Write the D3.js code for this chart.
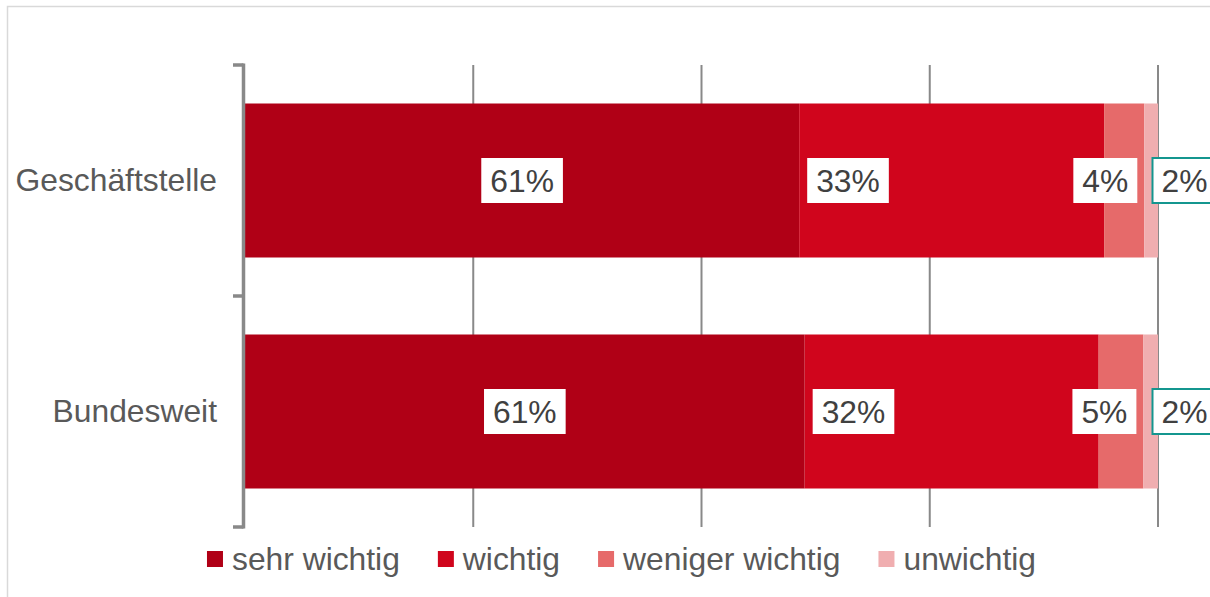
<!DOCTYPE html>
<html>
<head>
<meta charset="utf-8">
<script src="https://cdn.jsdelivr.net/npm/d3@7"></script>
<style>
  body { margin:0; background:#fff; }
  svg { display:block; font-family:'Liberation Sans', Arial, sans-serif; }
</style>
</head>
<body>
<svg class="chart"></svg>
<script>
"use strict";

var categories = ['Geschäftstelle', 'Bundesweit'];
var seriesNames = ['sehr wichtig', 'wichtig', 'weniger wichtig', 'unwichtig'];
var sehrWichtig = [60.7, 61.3];
var wichtig = [33.4, 32.2];
var wenigerWichtig = [4.4, 4.9];
var unwichtig = [1.5, 1.6];
var xTicks = [0, 25, 50, 75, 100];

var colors = ['#b00016', '#d0051c', '#e66a6a', '#f0aeb0'];
var fs = 31.8;

var W = 1210, H = 597;
var svg = d3.select('.chart')
  .attr('width', W)
  .attr('height', H);

// outer frame
svg.append('rect')
  .attr('x', 7.5).attr('y', 6.5)
  .attr('width', W + 10).attr('height', H + 10)
  .attr('fill', 'none')
  .attr('stroke', '#d9d9d9')
  .attr('stroke-width', 1.5);

var x = d3.scaleLinear()
  .domain([0, 100])
  .range([245, 1158]);

var y = d3.scaleBand()
  .domain(categories)
  .range([65, 527])
  .paddingInner(1/3)
  .paddingOuter(1/6);

var rows = categories.map(function(c, i){
  return {
    cat: c,
    'sehr wichtig': sehrWichtig[i],
    'wichtig': wichtig[i],
    'weniger wichtig': wenigerWichtig[i],
    'unwichtig': unwichtig[i]
  };
});

var stacked = d3.stack().keys(seriesNames)(rows);

// gridlines
svg.append('g').selectAll('line')
  .data(xTicks.slice(1))
  .enter().append('line')
    .attr('x1', function(d){return x(d)})
    .attr('x2', function(d){return x(d)})
    .attr('y1', y.range()[0])
    .attr('y2', y.range()[1])
    .attr('stroke', '#898989')
    .attr('stroke-width', 2);

// bars
var layers = svg.append('g').selectAll('g')
  .data(stacked)
  .enter().append('g')
    .attr('fill', function(d, i){return colors[i]});

layers.selectAll('rect')
  .data(function(d){return d})
  .enter().append('rect')
    .attr('x', function(d){return x(d[0])})
    .attr('width', function(d){return x(d[1]) - x(d[0])})
    .attr('y', function(d){return y(d.data.cat)})
    .attr('height', y.bandwidth());

// category axis
var yAxis = d3.axisLeft(y)
  .tickSize(0)
  .tickPadding(28);

var axisG = svg.append('g')
  .attr('transform', 'translate(' + x(0) + ',0)')
  .call(yAxis);

axisG.select('.domain').remove();
axisG.selectAll('text')
  .attr('font-size', fs)
  .attr('font-family', 'Liberation Sans, Arial, sans-serif')
  .attr('fill', '#595959')
  .attr('dy', '0.34em');

// axis line with ticks at band boundaries
var bounds = [y.range()[0], y(categories[1]) - y.step() * y.paddingInner() / 2, y.range()[1]];
svg.append('line')
  .attr('x1', x(0) - 1.5).attr('x2', x(0) - 1.5)
  .attr('y1', bounds[0] - 1.5).attr('y2', bounds[2] + 1.5)
  .attr('stroke', '#898989')
  .attr('stroke-width', 3.5);
svg.append('g').selectAll('line')
  .data(bounds)
  .enter().append('line')
    .attr('x1', x(0) - 12).attr('x2', x(0) - 1.5)
    .attr('y1', function(d){return d})
    .attr('y2', function(d){return d})
    .attr('stroke', '#898989')
    .attr('stroke-width', 3.5);

// data labels
var labelG = svg.append('g');
stacked.forEach(function(layer, si){
  layer.forEach(function(d){
    var g = labelG.append('g');
    var cy = y(d.data.cat) + y.bandwidth() / 2;
    var t = g.append('text')
      .attr('font-size', fs)
      .attr('fill', '#404040')
      .attr('y', cy + 11)
      .text(Math.round(d[1] - d[0]) + '%');
    var tw = t.node().getComputedTextLength();
    var bw = tw + 18, bh = 45;
    var bx;
    if (si === 0) bx = (x(d[0]) + x(d[1])) / 2 - bw / 2;
    else if (si === 1) bx = x(d[0]) + 8;
    else if (si === 2) bx = x(d[1]) - 7 - bw;
    else bx = x(d[1]) - 5.5;
    g.insert('rect', 'text')
      .attr('x', bx)
      .attr('y', cy - bh / 2)
      .attr('width', bw)
      .attr('height', bh)
      .attr('fill', '#fff')
      .attr('stroke', si === 3 ? '#14968f' : 'none')
      .attr('stroke-width', 2);
    t.attr('x', bx + 9);
  });
});

// legend
var legend = svg.append('g');
var items = legend.selectAll('g')
  .data(seriesNames)
  .enter().append('g');
items.append('rect')
  .attr('width', 16).attr('height', 16)
  .attr('y', 551)
  .attr('fill', function(d, i){return colors[i]});
items.append('text')
  .attr('x', 25)
  .attr('y', 570)
  .attr('font-size', fs)
  .attr('fill', '#595959')
  .text(function(d){return d});

var gap = 38;
var widths = [];
items.each(function(){
  var w = d3.select(this).select('text').node().getComputedTextLength() + 25;
  widths.push(w);
});
var total = d3.sum(widths) + gap * (widths.length - 1);
var lx = 621.5 - total / 2;
items.each(function(d, i){
  d3.select(this).attr('transform', 'translate(' + lx + ',0)');
  lx += widths[i] + gap;
});
</script>
</body>
</html>
